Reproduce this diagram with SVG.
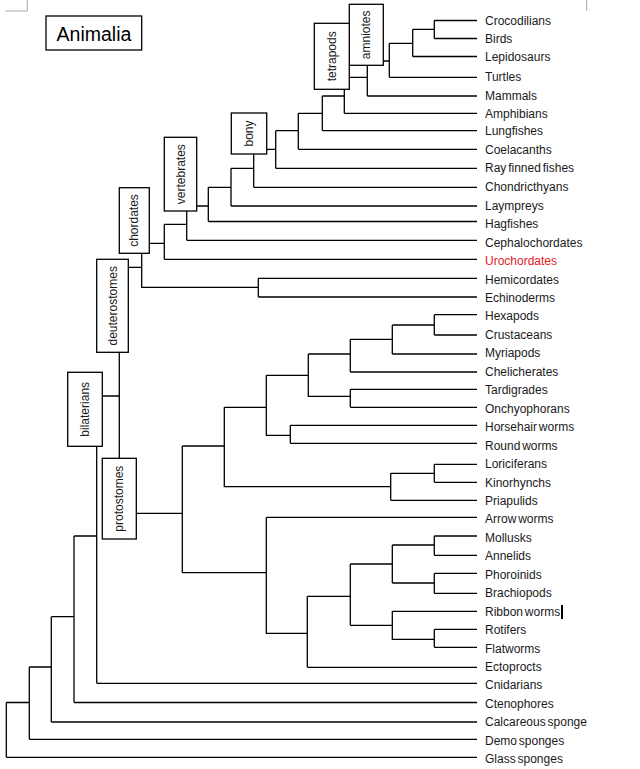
<svg xmlns="http://www.w3.org/2000/svg" width="640" height="769" viewBox="0 0 640 769">
<style>
.bg{fill:#ffffff}
.c{fill:none;stroke:#000;stroke-width:1.3}
.box{fill:#fff;stroke:#000;stroke-width:1.3}
.lbl{font-family:"Liberation Sans",Arial,sans-serif;font-size:12px;fill:#1a1a1a;word-spacing:-1.5px}
.red{fill:#e3202b}
.bl{font-family:"Liberation Sans",Arial,sans-serif;font-size:12px;fill:#1a1a1a;text-anchor:middle}
.mark{fill:none;stroke:#a8a8a8;stroke-width:1}
</style>
<rect class="bg" x="0" y="0" width="640" height="769"/>
<path class="mark" d="M5 11H27.3V0M586.7 0V11"/>
<g id="connectors">
<path class="c" d="M434.3 20.5H477M434.3 38.5H477M412.7 56.5H477M389.3 77.3H477M367.3 96H477M344.3 113.3H477M322.3 130.7H477M298.3 149.3H477M275.7 168.3H477M253.7 187.3H477M231 206H477M208.3 221.5H477M186.7 240.3H477M164.3 259.3H477M258.3 278.3H477M258.3 297H477M434.3 314.7H477M434.3 335H477M392.3 354H477M350.3 372H477M350.3 389.3H477M350.3 407.3H477M290.3 425.3H477M290.3 443.3H477M434.3 464.3H477M434.3 482.3H477M390.7 500.3H477M266.3 517.3H477M434.3 536H477M434.3 555.3H477M434.3 573.3H477M434.3 593.3H477M392.3 611.3H477M434.3 629.3H477M434.3 647.3H477M307.3 667.3H477M96.7 683.3H477M74 702.5H477M51.3 722H477M29.3 739.3H477M6.3 757.3H477"/>
<path class="c" d="M434.3 20.5V38.5M412.7 29.3H434.3M412.7 29.3V56.5M389.3 43.3H412.7M389.3 43.3V77.3M383.3 61H389.3M367.3 65.3V96M349.3 77.3H367.3M344.3 89.3V113.3M322.3 96H344.3M322.3 96V130.7M298.3 113.3H322.3M298.3 113.3V149.3M275.7 130.7H298.3M275.7 130.7V168.3M266.7 149.3H275.7M253.7 154V187.3M231 168.3H253.7M231 168.3V206M208.3 187.3H231M208.3 187.3V221.5M196.7 206H208.3M186.7 211V240.3M164.3 224.3H186.7M164.3 224.3V259.3M149.3 243.3H164.3M141.7 253.3V287.3H258.3M258.3 278.3V297M128.3 267.3H141.7"/>
<path class="c" d="M119.3 352.3V458.3M102.3 396H119.3M136.3 513.3H182.3M182.3 446V572.7M182.3 446H224.3M224.3 407.3V486.7H390.7M390.7 473.3V500.3M390.7 473.3H434.3M434.3 464.3V482.3M224.3 407.3H266.3M266.3 375.3V435.3H290.3M290.3 425.3V443.3M266.3 375.3H308.3M308.3 354V396.3H350.3M350.3 389.3V407.3M308.3 354H350.3M350.3 339.3V372M350.3 339.3H392.3M392.3 325V354M392.3 325H434.3M434.3 314.7V335"/>
<path class="c" d="M182.3 572.7H266.3M266.3 517.3V633.3H307.3M307.3 596.3V667.3M307.3 596.3H350.3M350.3 564V625.3M350.3 564H392.3M392.3 545V583M392.3 545H434.3M434.3 536V555.3M392.3 583H434.3M434.3 573.3V593.3M350.3 625.3H392.3M392.3 611.3V639.3H434.3M434.3 629.3V647.3"/>
<path class="c" d="M96.7 446.3V683.3M74 536H96.7M74 536V702.5M51.3 616.7H74M51.3 616.7V722M29.3 667H51.3M29.3 667V739.3M6.3 702.5H29.3M6.3 702.5V757.3"/>
</g>
<g id="animalia"><rect class="box" x="46" y="16" width="95.7" height="34"/><text x="94" y="40.5" font-family="Liberation Sans,Arial,sans-serif" font-size="19.5" fill="#000" text-anchor="middle">Animalia</text></g>
<g id="amniotes"><rect class="box" x="349.3" y="4.3" width="34" height="61"/><text class="bl" transform="translate(366.3 34.8) rotate(-90)" y="4">amniotes</text></g>
<g id="tetrapods"><rect class="box" x="314.3" y="23.3" width="35" height="66"/><text class="bl" transform="translate(331.8 56.3) rotate(-90)" y="4">tetrapods</text></g>
<g id="bony"><rect class="box" x="231.3" y="113" width="35.4" height="41"/><text class="bl" transform="translate(249 133.5) rotate(-90)" y="4">bony</text></g>
<g id="vertebrates"><rect class="box" x="164.3" y="137.3" width="32.4" height="73.7"/><text class="bl" transform="translate(180.5 174.2) rotate(-90)" y="4">vertebrates</text></g>
<g id="chordates"><rect class="box" x="119.3" y="187.7" width="30" height="65.6"/><text class="bl" transform="translate(134.3 220.5) rotate(-90)" y="4">chordates</text></g>
<g id="deuterostomes"><rect class="box" x="96.7" y="259.3" width="31.6" height="93"/><text class="bl" transform="translate(112.5 305.8) rotate(-90)" y="4">deuterostomes</text></g>
<g id="bilaterians"><rect class="box" x="67.7" y="372.3" width="34.6" height="74"/><text class="bl" transform="translate(85 409.3) rotate(-90)" y="4">bilaterians</text></g>
<g id="protostomes"><rect class="box" x="102.3" y="458.3" width="34" height="80.7"/><text class="bl" transform="translate(119.3 498.7) rotate(-90)" y="4">protostomes</text></g>
<g id="leaves">
<g id="l0"><text class="lbl" x="485" y="24.5">Crocodilians</text></g>
<g id="l1"><text class="lbl" x="485" y="42.5">Birds</text></g>
<g id="l2"><text class="lbl" x="485" y="60.5">Lepidosaurs</text></g>
<g id="l3"><text class="lbl" x="485" y="81">Turtles</text></g>
<g id="l4"><text class="lbl" x="485" y="99.5">Mammals</text></g>
<g id="l5"><text class="lbl" x="485" y="117.5">Amphibians</text></g>
<g id="l6"><text class="lbl" x="485" y="135">Lungfishes</text></g>
<g id="l7"><text class="lbl" x="485" y="154">Coelacanths</text></g>
<g id="l8"><text class="lbl" x="485" y="172">Ray finned fishes</text></g>
<g id="l9"><text class="lbl" x="485" y="191">Chondricthyans</text></g>
<g id="l10"><text class="lbl" x="485" y="210">Laympreys</text></g>
<g id="l11"><text class="lbl" x="485" y="228">Hagfishes</text></g>
<g id="l12"><text class="lbl" x="485" y="247">Cephalochordates</text></g>
<g id="l13"><text class="lbl red" x="485" y="265">Urochordates</text></g>
<g id="l14"><text class="lbl" x="485" y="284">Hemicordates</text></g>
<g id="l15"><text class="lbl" x="485" y="302">Echinoderms</text></g>
<g id="l16"><text class="lbl" x="485" y="320">Hexapods</text></g>
<g id="l17"><text class="lbl" x="485" y="339">Crustaceans</text></g>
<g id="l18"><text class="lbl" x="485" y="357">Myriapods</text></g>
<g id="l19"><text class="lbl" x="485" y="376">Chelicherates</text></g>
<g id="l20"><text class="lbl" x="485" y="394">Tardigrades</text></g>
<g id="l21"><text class="lbl" x="485" y="413">Onchyophorans</text></g>
<g id="l22"><text class="lbl" x="485" y="431">Horsehair worms</text></g>
<g id="l23"><text class="lbl" x="485" y="450">Round worms</text></g>
<g id="l24"><text class="lbl" x="485" y="468">Loriciferans</text></g>
<g id="l25"><text class="lbl" x="485" y="487">Kinorhynchs</text></g>
<g id="l26"><text class="lbl" x="485" y="505">Priapulids</text></g>
<g id="l27"><text class="lbl" x="485" y="523">Arrow worms</text></g>
<g id="l28"><text class="lbl" x="485" y="542">Mollusks</text></g>
<g id="l29"><text class="lbl" x="485" y="560">Annelids</text></g>
<g id="l30"><text class="lbl" x="485" y="579">Phoroinids</text></g>
<g id="l31"><text class="lbl" x="485" y="597">Brachiopods</text></g>
<g id="l32"><text class="lbl" x="485" y="616">Ribbon worms</text></g>
<g id="l33"><text class="lbl" x="485" y="634">Rotifers</text></g>
<g id="l34"><text class="lbl" x="485" y="653">Flatworms</text></g>
<g id="l35"><text class="lbl" x="485" y="671">Ectoprocts</text></g>
<g id="l36"><text class="lbl" x="485" y="689">Cnidarians</text></g>
<g id="l37"><text class="lbl" x="485" y="708">Ctenophores</text></g>
<g id="l38"><text class="lbl" x="485" y="726">Calcareous sponge</text></g>
<g id="l39"><text class="lbl" x="485" y="745">Demo sponges</text></g>
<g id="l40"><text class="lbl" x="485" y="763">Glass sponges</text></g>
</g>
<rect x="561" y="605" width="2" height="14" fill="#000"/>
</svg>
